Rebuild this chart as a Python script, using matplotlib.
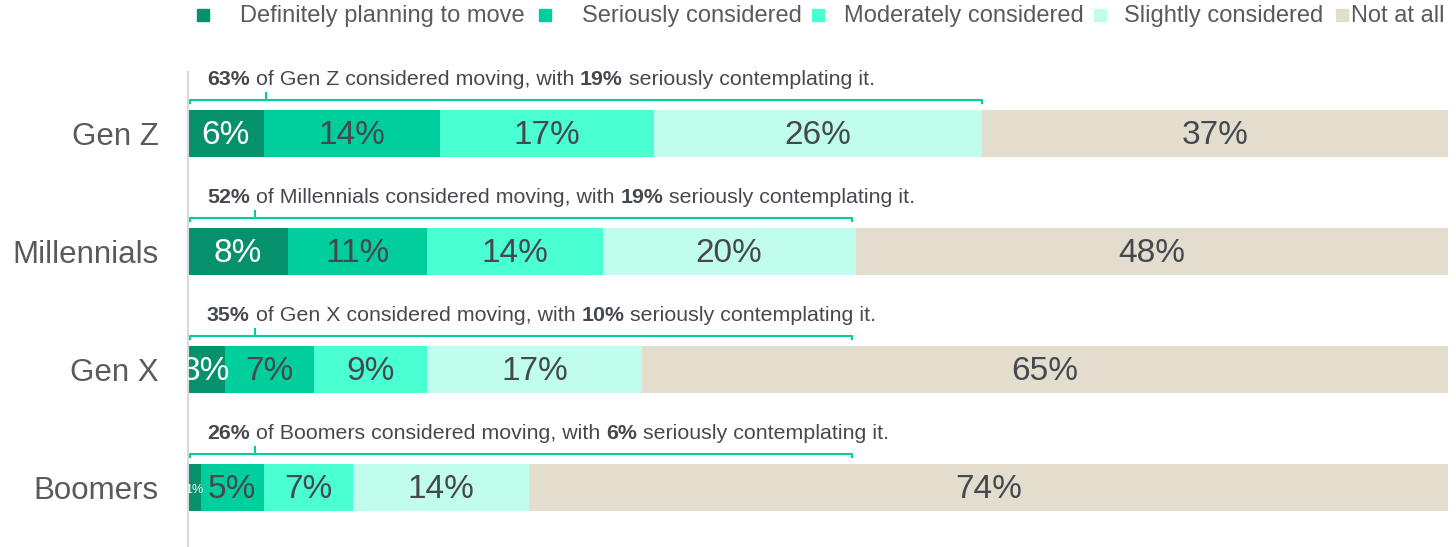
import matplotlib.pyplot as plt
from matplotlib.patches import Rectangle

plt.rcParams['font.family'] = ['Liberation Sans', 'DejaVu Sans']

# survey data (share of each generation, %)
groups = ['Gen Z', 'Millennials', 'Gen X', 'Boomers']
segments = ['Definitely planning to move', 'Seriously considered',
            'Moderately considered', 'Slightly considered', 'Not at all']
shares = [
    [6.0, 14.0, 17.0, 26.0, 37.0],
    [7.9, 11.1, 13.9, 20.1, 47.0],
    [2.9, 7.1, 9.0, 17.0, 64.0],
    [1.0, 5.0, 7.1, 14.0, 72.9],
]
share_labels = [
    ['6%', '14%', '17%', '26%', '37%'],
    ['8%', '11%', '14%', '20%', '48%'],
    ['3%', '7%', '9%', '17%', '65%'],
    ['1%', '5%', '7%', '14%', '74%'],
]
considered = ['63%', '52%', '35%', '26%']
serious = ['19%', '19%', '10%', '6%']
bracket_end = [63.0, 52.7, 52.7, 52.7]
bracket_mid = [6.2, 5.3, 5.3, 5.3]
colors = ['#05916C', '#00CF9D', '#4AFFD1', '#C1FDEC', '#E3DDCE']

text_dark = '#45484F'
text_grey = '#5A5A5A'

fig = plt.figure(figsize=(14.56, 5.47), dpi=100)
ax = fig.add_axes([188 / 1456, 0, 1260 / 1456, 475 / 547])

ypos = list(range(len(groups)))
lefts = [0.0] * len(groups)
for j, seg in enumerate(segments):
    vals = [row[j] for row in shares]
    ax.barh(ypos, vals, left=lefts, height=0.4, color=colors[j], label=seg)
    for i, v in enumerate(vals):
        ax.text(lefts[i] + v / 2, i + 0.02, share_labels[i][j],
                ha='center', va='center', clip_on=True,
                fontsize=9 if v < 2 else 24,
                color='white' if j == 0 else text_dark)
    lefts = [l + v for l, v in zip(lefts, vals)]

# annotation line + bracket above each bar
for i, g in enumerate(groups):
    y = i - 0.46
    t = ax.text(1.5, y, considered[i], fontsize=15.4, fontweight='bold',
                color=text_dark, va='center', ha='left')
    t = ax.annotate(f' of {g} considered moving, with ', xy=(1, 0), xycoords=t,
                    va='bottom', ha='left', fontsize=15.4, color=text_dark)
    t = ax.annotate(serious[i], xy=(1, 0), xycoords=t, va='bottom', ha='left',
                    fontsize=15.4, fontweight='bold', color=text_dark)
    ax.annotate(' seriously contemplating it.', xy=(1, 0), xycoords=t,
                va='bottom', ha='left', fontsize=15.4, color=text_dark)

    yb = i - 0.285
    ax.plot([0.15, 0.15, bracket_end[i], bracket_end[i]], [yb + 0.03, yb, yb, yb + 0.03],
            color='#00CF9D', lw=1.5, clip_on=False, solid_joinstyle='round')
    ax.plot([bracket_mid[i], bracket_mid[i]], [yb, yb - 0.06],
            color='#00CF9D', lw=1.5, clip_on=False)

ax.set_xlim(0, 100)
ax.set_ylim(3.504, -0.521)
ax.set_xticks([])
ax.set_yticks(ypos)
ax.set_yticklabels(groups, fontsize=22.5, color=text_grey)
ax.tick_params(axis='y', length=0, pad=21)
for s in ['top', 'right', 'bottom']:
    ax.spines[s].set_visible(False)
ax.spines['left'].set_color('#D9D9D9')
ax.spines['left'].set_linewidth(1.5)

# legend row across the top
sq_x = [197, 539, 812, 1094, 1336]
txt_x = [240, 582, 844, 1124, 1351]
for j, seg in enumerate(segments):
    fig.add_artist(Rectangle((sq_x[j] / 1456, 1 - 21 / 547), 12 / 1456, 12 / 547,
                             transform=fig.transFigure, color=colors[j]))
    fig.text(txt_x[j] / 1456, 1 - 16 / 547, seg, fontsize=17, color=text_grey,
             va='center', ha='left')

fig.savefig('out.png', dpi=100)
